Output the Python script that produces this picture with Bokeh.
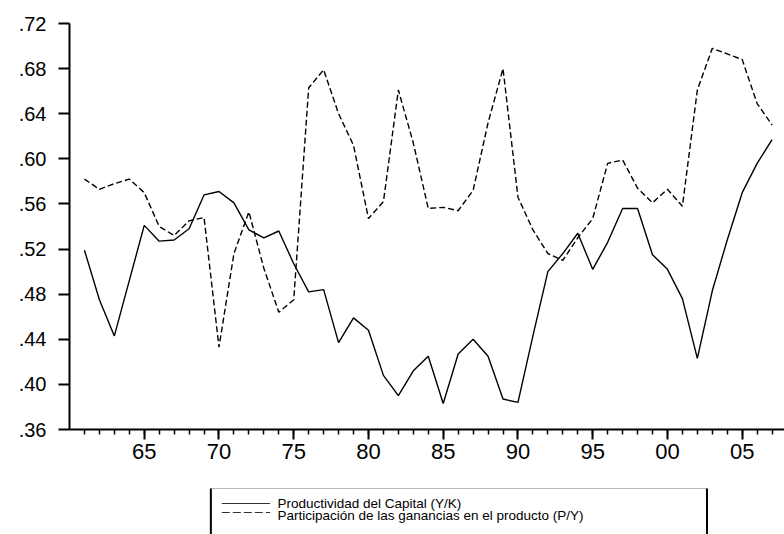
from bokeh.plotting import figure
from bokeh.models import Range1d, FixedTicker
from bokeh.layouts import column
from bokeh.embed import file_html
from bokeh.resources import INLINE
from bokeh.core.properties import value

# ---- data -------------------------------------------------------------
years = list(range(1961, 2008))

productividad_yk = [
    0.519, 0.475, 0.443, 0.492, 0.541, 0.527, 0.528, 0.538, 0.568, 0.571,
    0.561, 0.537, 0.530, 0.536, 0.507, 0.482, 0.484, 0.437, 0.459, 0.448,
    0.408, 0.390, 0.412, 0.425, 0.383, 0.427, 0.440, 0.425, 0.387, 0.384,
    0.443, 0.500, 0.516, 0.534, 0.502, 0.526, 0.556, 0.556, 0.515, 0.502,
    0.476, 0.423, 0.483, 0.528, 0.570, 0.596, 0.617,
]

participacion_py = [
    0.582, 0.573, 0.578, 0.582, 0.570, 0.540, 0.532, 0.545, 0.548, 0.433,
    0.516, 0.553, 0.503, 0.464, 0.475, 0.663, 0.679, 0.640, 0.612, 0.547,
    0.562, 0.661, 0.614, 0.556, 0.557, 0.554, 0.572, 0.632, 0.680, 0.566,
    0.537, 0.516, 0.510, 0.530, 0.547, 0.596, 0.599, 0.574, 0.561, 0.573,
    0.558, 0.661, 0.698, 0.693, 0.688, 0.649, 0.630,
]

x_major_ticks = [1965, 1970, 1975, 1980, 1985, 1990, 1995, 2000, 2005]
x_tick_labels = ["65", "70", "75", "80", "85", "90", "95", "00", "05"]
x_minor_ticks = list(range(1961, 2008))

y_ticks = [0.36, 0.40, 0.44, 0.48, 0.52, 0.56, 0.60, 0.64, 0.68, 0.72]
y_tick_labels = [".36", ".40", ".44", ".48", ".52", ".56", ".60", ".64", ".68", ".72"]

legend_labels = [
    "Productividad del Capital (Y/K)",
    "Participación de las ganancias en el producto (P/Y)",
]

FONT = "Liberation Sans"

# ---- main chart ---------------------------------------------------------
p = figure(
    width=784, height=478,
    x_range=Range1d(1960, 2007.83), y_range=Range1d(0.36, 0.72),
    output_backend="svg", toolbar_location=None,
    min_border_left=69, min_border_right=0, min_border_top=23, min_border_bottom=49,
)
p.outline_line_color = None
p.xgrid.visible = False
p.ygrid.visible = False
p.background_fill_color = "white"
p.border_fill_color = "white"

p.line(years, productividad_yk, line_color="black", line_width=1.4)
p.line(years, participacion_py, line_color="black", line_width=1.4, line_dash="6 3")

xa = p.xaxis[0]
xa.ticker = FixedTicker(ticks=x_major_ticks, minor_ticks=x_minor_ticks)
xa.major_label_overrides = {t: l for t, l in zip(x_major_ticks, x_tick_labels)}
xa.axis_line_width = 2
xa.axis_line_color = "black"
xa.major_tick_line_width = 2
xa.major_tick_out = 10
xa.major_tick_in = 0
xa.minor_tick_line_width = 1.5
xa.minor_tick_out = 5
xa.minor_tick_in = 0
xa.major_label_standoff = 4
xa.major_label_text_font = FONT
xa.major_label_text_font_size = "22px"
xa.major_label_text_color = "black"

ya = p.yaxis[0]
ya.ticker = FixedTicker(ticks=y_ticks, minor_ticks=[])
ya.major_label_overrides = {t: l for t, l in zip(y_ticks, y_tick_labels)}
ya.axis_line_width = 2
ya.axis_line_color = "black"
ya.major_tick_line_width = 2
ya.major_tick_out = 11
ya.major_tick_in = 0
ya.minor_tick_line_color = None
ya.major_label_standoff = 12
ya.major_label_text_font = FONT
ya.major_label_text_font_size = "20px"
ya.major_label_text_color = "black"

# ---- legend strip -------------------------------------------------------
lg = figure(
    width=784, height=56,
    x_range=Range1d(0, 784), y_range=Range1d(56, 0),
    x_axis_type=None, y_axis_type=None,
    output_backend="svg", toolbar_location=None,
    min_border_left=0, min_border_right=0, min_border_top=0, min_border_bottom=0,
)
lg.outline_line_color = None
lg.xgrid.visible = False
lg.ygrid.visible = False
lg.background_fill_color = "white"
lg.border_fill_color = "white"

lg.segment(x0=[155], y0=[10], x1=[699], y1=[10], line_color="#b8b8b8", line_width=1)
lg.segment(x0=[155, 699], y0=[10, 10], x1=[155, 699], y1=[56, 56],
           line_color="black", line_width=2)
lg.line([167, 220], [25, 25], line_color="#333333", line_width=1)
lg.line([167, 220], [34, 34], line_color="#333333", line_width=1, line_dash="8 3")
lg.text(x=[228, 228], y=[25, 37], text=legend_labels,
        text_font=value(FONT), text_font_size="13.5px",
        text_baseline="middle", text_align="left", text_color="black")

layout = column(p, lg, spacing=0)

open("out.html", "w").write(file_html(layout, INLINE))
